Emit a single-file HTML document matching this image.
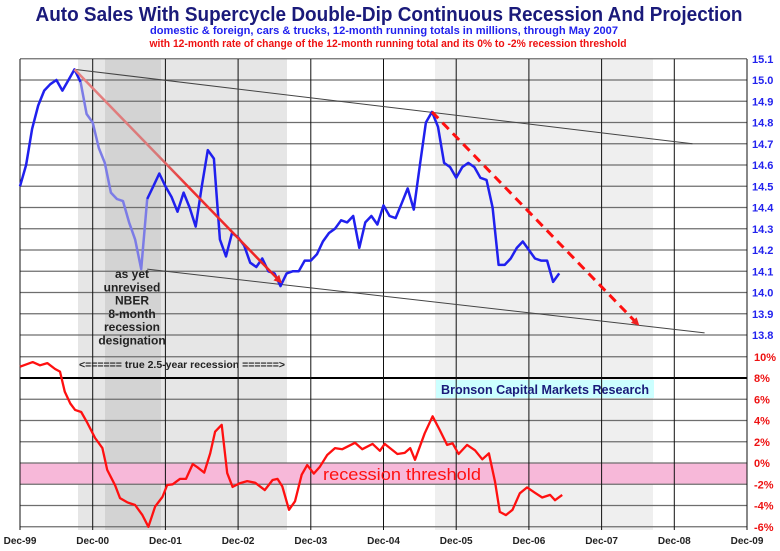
<!DOCTYPE html>
<html><head><meta charset="utf-8"><style>
html,body{margin:0;padding:0;background:#fff;}
svg{display:block;font-family:"Liberation Sans Narrow","Liberation Sans",sans-serif;}
</style></head><body>
<svg id="chart" width="780" height="551" viewBox="0 0 780 551" xmlns="http://www.w3.org/2000/svg">
<text x="389" y="21" text-anchor="middle" font-size="20" font-weight="bold" fill="#1a1a7a" textLength="707" lengthAdjust="spacingAndGlyphs">Auto Sales With Supercycle Double-Dip Continuous Recession And Projection</text>
<text x="384" y="34" text-anchor="middle" font-size="11" font-weight="bold" fill="#2222ee" textLength="468" lengthAdjust="spacingAndGlyphs">domestic &amp; foreign, cars &amp; trucks, 12-month running totals in millions, through May 2007</text>
<text x="388" y="47" text-anchor="middle" font-size="11" font-weight="bold" fill="#ee1111" textLength="477" lengthAdjust="spacingAndGlyphs">with 12-month rate of change of the 12-month running total and its 0% to -2% recession threshold</text>
<g id="bg"></g><g id="grid"></g><g id="marks"></g><g id="labels"></g>
</svg>
<script>
const yearLabels=["Dec-99","Dec-00","Dec-01","Dec-02","Dec-03","Dec-04","Dec-05","Dec-06","Dec-07","Dec-08","Dec-09"];
const salesTicks=["15.1","15.0","14.9","14.8","14.7","14.6","14.5","14.4","14.3","14.2","14.1","14.0","13.9","13.8"];
const rocTicks=["10%","8%","6%","4%","2%","0%","-2%","-4%","-6%"];
// monthly 12-month running totals (millions), month 0 = Dec-99
const salesValues=[14.50,14.60,14.77,14.88,14.95,14.98,15.00,14.95,15.00,15.05,14.99,14.84,14.80,14.68,14.61,14.47,14.44,14.43,14.33,14.25,14.11,14.44,14.50,14.56,14.50,14.45,14.38,14.47,14.40,14.31,14.50,14.67,14.63,14.25,14.17,14.28,14.26,14.22,14.14,14.12,14.16,14.10,14.09,14.03,14.09,14.10,14.10,14.15,14.15,14.18,14.24,14.28,14.30,14.34,14.33,14.36,14.21,14.33,14.36,14.32,14.41,14.36,14.35,14.42,14.49,14.39,14.60,14.80,14.85,14.78,14.61,14.59,14.54,14.59,14.61,14.59,14.54,14.53,14.40,14.13,14.13,14.16,14.21,14.24,14.20,14.16,14.15,14.15,14.05,14.09];
// rate of change readings: month offsets from Dec-99 and % values
const rocMonths=[0,2.1,3.3,4.5,5.8,6.6,7.4,8.3,9.1,10.1,11.1,12.4,13.6,14.4,15.7,16.5,17.7,19,20.2,21.2,22.3,23.5,24.3,25.2,26.4,27.4,28.5,29.3,30.4,31.4,32.2,33.3,34.2,35.1,36.3,37.5,38.8,40.4,41.7,42.5,43.3,44.4,45.4,46.5,47.4,48.5,49.5,50.7,52,53.2,55.3,56.5,58.2,59.4,60.2,62.3,63.5,64.4,65.2,66.8,68.1,69.3,70.5,71.4,72.4,73.8,75.1,76.3,77.4,78.4,79.2,80.2,81.3,82.5,83.7,85,86.2,87.5,88.3,89.5];
const rocValues=[9.06,9.5,9.2,9.4,8.85,8.6,6.7,5.6,5.0,4.8,3.8,2.35,1.4,-0.65,-2.1,-3.3,-3.7,-3.95,-4.9,-6.0,-4.1,-3.2,-2.07,-2.0,-1.5,-1.5,-0.1,-0.4,-0.9,0.9,2.95,3.6,-0.95,-2.25,-1.9,-1.7,-1.85,-2.55,-1.6,-1.5,-2.2,-4.4,-3.6,-1.1,-0.2,-1.0,-0.35,0.75,1.4,1.3,1.9,1.3,1.8,1.15,1.8,0.85,0.95,1.4,0.3,2.8,4.4,3.1,1.7,1.85,0.85,1.7,1.2,0.35,0.9,-1.75,-4.6,-4.9,-4.4,-2.85,-2.3,-2.8,-3.25,-3.0,-3.5,-3.0];
// trend channels (month, value)
const upperTrend=[[9,15.05],[111,14.70]];
const lowerTrend=[[21,14.11],[113,13.81]];
const solidArrow=[[9,15.05],[43,14.05]];
const dashArrow=[[68,14.85],[102,13.85]];

const NS="http://www.w3.org/2000/svg";
const X0=20,PX_PER_MONTH=(747-20)/120;
const xs=m=>X0+m*PX_PER_MONTH;
const ys=v=>80+(15.0-v)*212.5;
const yr=p=>463-p*10.625;
function mk(parent,tag,attrs){const e=document.createElementNS(NS,tag);for(const k in attrs)e.setAttribute(k,attrs[k]);document.getElementById(parent).appendChild(e);return e;}

let e;
e=mk('bg','rect',{x:78,y:59,width:209,height:471,fill:'#e6e6e6'});


e=mk('bg','rect',{x:105,y:59,width:56,height:471,fill:'#d3d3d3'});


e=mk('bg','rect',{x:435,y:59,width:218,height:471,fill:'#efefef'});


e=mk('bg','rect',{x:X0,y:yr(0),width:727,height:yr(-2)-yr(0),fill:'#f7b8d9'});


e=mk('bg','rect',{x:436,y:380,width:218,height:18,fill:'#ccffff'});



salesTicks.forEach(t=>{const y=ys(parseFloat(t));
 e=mk('grid','line',{x1:X0,x2:747,y1:y,y2:y,stroke:'#6e6e6e','stroke-width':1.2});
 
 
 e=mk('labels','text',{x:752,y:y+4,'font-size':11,'font-weight':'bold',fill:'#2222ee'});e.textContent=t;
 
 
});
rocTicks.forEach(t=>{const y=yr(parseFloat(t));
 e=mk('grid','line',{x1:X0,x2:747,y1:y,y2:y,stroke:t==='8%'?'#000':'#6e6e6e','stroke-width':t==='8%'?2:1.2});
 
 
 e=mk('labels','text',{x:754,y:y+4,'font-size':11,'font-weight':'bold',fill:'#ee1111'});e.textContent=t;
 
 
});
yearLabels.forEach((t,i)=>{const x=xs(i*12);
 e=mk('grid','line',{x1:x,x2:x,y1:59,y2:530,stroke:'#111','stroke-width':1});
 
 
 e=mk('labels','text',{x:x,y:544,'font-size':10,'font-weight':'bold',fill:'#222','text-anchor':'middle'});e.textContent=t;
 
 
});

[[upperTrend,'upper-trend-line'],[lowerTrend,'lower-trend-line']].forEach(([p,n])=>{
 e=mk('marks','line',{x1:xs(p[0][0]),y1:ys(p[0][1]),x2:xs(p[1][0]),y2:ys(p[1][1]),stroke:'#444','stroke-width':1});
 
 
});

const pts=salesValues.map((v,i)=>[xs(i),ys(v)]);
const ptStr=a=>a.map(p=>p[0].toFixed(1)+','+p[1].toFixed(1)).join(' ');
e=mk('marks','polyline',{points:ptStr(pts.slice(0,11)),fill:'none',stroke:'#2020ee','stroke-width':2.5,'stroke-linejoin':'round'});


e=mk('marks','polyline',{points:ptStr(pts.slice(10,22)),fill:'none',stroke:'#7c7ce6','stroke-width':2.5,'stroke-linejoin':'round'});


e=mk('marks','polyline',{points:ptStr(pts.slice(21)),fill:'none',stroke:'#2020ee','stroke-width':2.5,'stroke-linejoin':'round'});



const defs=mk('marks','defs',{});
defs.innerHTML='<linearGradient id="ag" gradientUnits="userSpaceOnUse" x1="'+xs(solidArrow[0][0])+'" y1="'+ys(solidArrow[0][1])+'" x2="'+xs(solidArrow[1][0])+'" y2="'+ys(solidArrow[1][1])+'"><stop offset="0" stop-color="#e88080"/><stop offset="0.4" stop-color="#d87878"/><stop offset="0.55" stop-color="#ee3030"/><stop offset="1" stop-color="#ee2020"/></linearGradient><marker id="ah" markerWidth="8" markerHeight="8" refX="6" refY="4" orient="auto" markerUnits="userSpaceOnUse"><path d="M0,0 L8,4 L0,8 z" fill="#ee2020"/></marker>';
e=mk('marks','line',{x1:xs(solidArrow[0][0]),y1:ys(solidArrow[0][1]),x2:xs(solidArrow[1][0]),y2:ys(solidArrow[1][1]),stroke:'url(#ag)','stroke-width':2.5,'marker-end':'url(#ah)'});


e=mk('marks','line',{x1:xs(dashArrow[0][0]),y1:ys(dashArrow[0][1]),x2:xs(dashArrow[1][0]),y2:ys(dashArrow[1][1]),stroke:'#ff1010','stroke-width':3,'stroke-dasharray':'9,6','marker-end':'url(#ah)'});



e=mk('marks','polyline',{points:rocMonths.map((m,i)=>xs(m).toFixed(1)+','+yr(rocValues[i]).toFixed(1)).join(' '),fill:'none',stroke:'#ff1010','stroke-width':2.3,'stroke-linejoin':'round'});



["as yet","unrevised","NBER","8-month","recession","designation"].forEach((t,i)=>{
 e=mk('labels','text',{x:132,y:278+i*13.3,'font-size':12,'font-weight':'bold',fill:'#222','text-anchor':'middle'});e.textContent=t;
 
 
});
e=mk('labels','text',{x:182,y:368,'font-size':10.5,'font-weight':'bold',fill:'#222','text-anchor':'middle',textLength:206,lengthAdjust:'spacingAndGlyphs'});e.textContent='<====== true 2.5-year recession ======>';


e=mk('labels','text',{x:545,y:394,'font-size':13,'font-weight':'bold',fill:'#1a1a7a','text-anchor':'middle',textLength:208,lengthAdjust:'spacingAndGlyphs'});e.textContent='Bronson Capital Markets Research';


e=mk('labels','text',{x:402,y:480,'font-size':17,fill:'#ff1010','text-anchor':'middle',textLength:158,lengthAdjust:'spacingAndGlyphs'});e.textContent='recession threshold';


</script>
</body></html>
